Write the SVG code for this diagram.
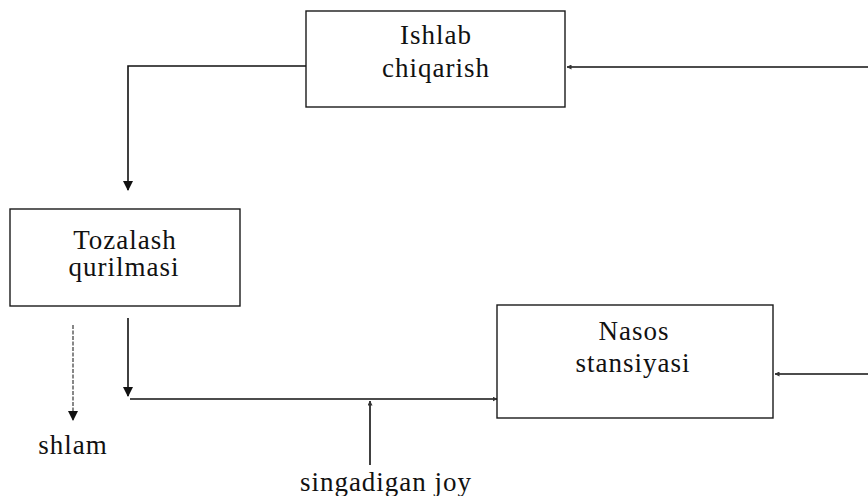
<svg xmlns="http://www.w3.org/2000/svg" width="868" height="496" viewBox="0 0 868 496">
  <style>
    .box { fill: #ffffff; stroke: #1a1a1a; stroke-width: 1.4; }
    .lbl { font-family: "Liberation Serif", "Times New Roman", serif; font-size: 27px; letter-spacing: 1px; fill: #111; text-anchor: middle; }
    .ln { fill: none; stroke: #111; stroke-width: 1.6; }
    .faint { fill: none; stroke: #555; stroke-width: 1.4; stroke-dasharray: 4 1.5; }
  </style>
  <defs>
    <marker id="arr" viewBox="0 0 10 10" refX="9" refY="5" markerWidth="10" markerHeight="10" markerUnits="userSpaceOnUse" orient="auto">
      <path d="M0,0 L10,5 L0,10 z" fill="#111"/>
    </marker>
    <marker id="arrS" viewBox="0 0 10 10" refX="9" refY="5" markerWidth="5" markerHeight="5" markerUnits="userSpaceOnUse" orient="auto">
      <path d="M0,0 L10,5 L0,10 z" fill="#333"/>
    </marker>
  </defs>

  <g id="connectors">
    <path class="ln" d="M306,66 H128 V190" marker-end="url(#arr)"/>
    <path class="ln" d="M868,67 H567" marker-end="url(#arrS)"/>
    <path class="faint" d="M73,325 V420" marker-end="url(#arr)"/>
    <path class="ln" d="M128,318 V396" marker-end="url(#arr)"/>
    <path class="ln" d="M130,399 H497" marker-end="url(#arrS)"/>
    <path class="ln" d="M370,465 V401" marker-end="url(#arrS)"/>
    <path class="ln" d="M868,374 H775" marker-end="url(#arrS)"/>
  </g>

  <g id="ishlab">
    <rect class="box" x="306" y="11" width="259" height="96"/>
    <text class="lbl" x="436" y="44">Ishlab</text>
    <text class="lbl" x="436" y="77">chiqarish</text>
  </g>

  <g id="tozalash">
    <rect class="box" x="10" y="209" width="230" height="97"/>
    <text class="lbl" x="125" y="249">Tozalash</text>
    <text class="lbl" x="124" y="276">qurilmasi</text>
  </g>

  <g id="nasos">
    <rect class="box" x="497" y="305" width="276" height="113"/>
    <text class="lbl" x="634" y="340">Nasos</text>
    <text class="lbl" x="633" y="372">stansiyasi</text>
  </g>

  <g id="shlam">
    <text class="lbl" x="73" y="454">shlam</text>
  </g>

  <g id="singadigan">
    <text class="lbl" x="386" y="491">singadigan joy</text>
  </g>
</svg>
